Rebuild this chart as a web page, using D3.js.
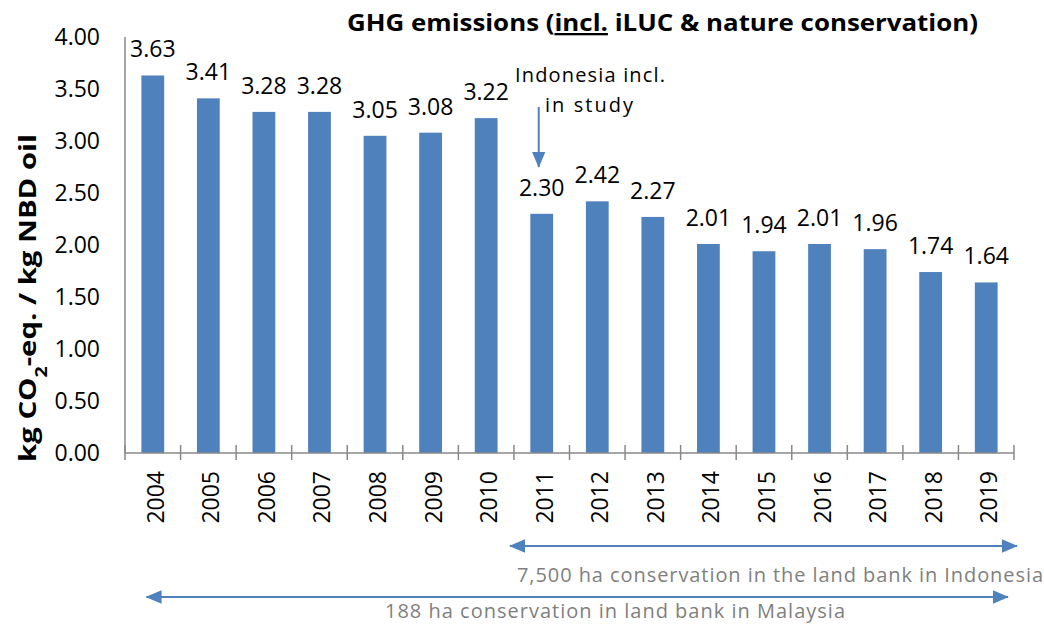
<!DOCTYPE html>
<html lang="en">
<head>
<meta charset="UTF-8">
<title>GHG emissions</title>
<script src="https://d3js.org/d3.v7.min.js"></script>
<style>
    body { margin: 0; background: #fff; }
    svg text { font-family: "Open Sans", "Liberation Sans", Arial, sans-serif; }
    .tick text { font-size: 23px; fill: #000; font-family: "Open Sans", sans-serif; }
</style>
</head>
<body>
<svg id="canvas" width="1044" height="625"></svg>
<script>
    // chart data
    let years = ["2004","2005","2006","2007","2008","2009","2010","2011",
                 "2012","2013","2014","2015","2016","2017","2018","2019"];
    let emissions = [3.63,3.41,3.28,3.28,3.05,3.08,3.22,2.30,
                     2.42,2.27,2.01,1.94,2.01,1.96,1.74,1.64];
    let yTicks = [0,0.5,1,1.5,2,2.5,3,3.5,4];

    let svg = d3.select('svg');
    let blue = "#4f81bd";
    let axisGrey = "#898989";

    let x = d3.scaleBand()
        .domain(years)
        .range([125, 1014])
        .paddingInner(0.59)
        .paddingOuter(0.295);
    let y = d3.scaleLinear().domain([0, 4]).range([453, 37]);

    let defs = svg.append('defs');
    defs.append('marker')
        .attr('id', 'head')
        .attr('viewBox', '0 0 10 10')
        .attr('refX', 9.5).attr('refY', 5)
        .attr('markerWidth', 8).attr('markerHeight', 8)
        .attr('markerUnits', 'strokeWidth')
        .attr('orient', 'auto-start-reverse')
        .append('path')
        .attr('d', 'M0,0.8 L10,5 L0,9.2 Z')
        .attr('fill', blue);

    // y axis
    let yAxis = svg.append('g')
        .attr('transform', 'translate(125,0)')
        .call(d3.axisLeft(y).tickValues(yTicks).tickSize(0).tickPadding(25).tickFormat(d3.format('.2f')));
    yAxis.select('.domain').remove();
    svg.append('line')
        .attr('x1', 125).attr('x2', 125)
        .attr('y1', y(4)).attr('y2', y(0))
        .attr('stroke', axisGrey).attr('stroke-width', 1.5);

    // bars
    svg.append('g').selectAll('rect')
        .data(years)
        .enter()
        .append('rect')
        .attr('x', d => x(d))
        .attr('width', x.bandwidth())
        .attr('y', (d, i) => y(emissions[i]))
        .attr('height', (d, i) => y(0) - y(emissions[i]))
        .attr('fill', blue);

    // data labels
    svg.append('g').selectAll('text')
        .data(years)
        .enter()
        .append('text')
        .attr('x', d => x(d) + x.bandwidth() / 2)
        .attr('y', (d, i) => y(emissions[i]) - 18)
        .attr('text-anchor', 'middle')
        .style('font-size', '23px')
        .text((d, i) => emissions[i].toFixed(2));

    // x axis
    let step = x.step();
    svg.append('line')
        .attr('x1', 125).attr('x2', 1014)
        .attr('y1', y(0)).attr('y2', y(0))
        .attr('stroke', axisGrey).attr('stroke-width', 1.5);
    let tickPos = years.map(d => x(d) - (step - x.bandwidth()) / 2).concat([1014]);
    svg.append('g').selectAll('line')
        .data(tickPos)
        .enter()
        .append('line')
        .attr('x1', d => d).attr('x2', d => d)
        .attr('y1', y(0) - 8).attr('y2', y(0) + 7)
        .attr('stroke', axisGrey).attr('stroke-width', 1.5);
    svg.append('g').selectAll('text')
        .data(years)
        .enter()
        .append('text')
        .attr('transform', d => 'translate(' + (x(d) + x.bandwidth() / 2 + 11) + ',' + 471 + ') rotate(-90)')
        .attr('text-anchor', 'end')
        .style('font-size', '23px')
        .text(d => d);

    // title
    let title = svg.append('text')
        .attr('x', 347).attr('y', 31)
        .style('font-size', '23px').style('font-weight', 'bold')
        .attr('textLength', 631).attr('lengthAdjust', 'spacingAndGlyphs');
    title.append('tspan').text('GHG emissions (');
    title.append('tspan').attr('text-decoration', 'underline').text('incl.');
    title.append('tspan').text(' iLUC &  nature conservation)');

    // y axis title
    let yTitle = svg.append('text')
        .attr('transform', 'translate(36,298) rotate(-90)')
        .attr('text-anchor', 'middle')
        .attr('textLength', 328).attr('lengthAdjust', 'spacingAndGlyphs')
        .style('font-size', '24px').style('font-weight', 'bold');
    yTitle.append('tspan').text('kg CO');
    yTitle.append('tspan').attr('baseline-shift', 'sub').style('font-size', '16px').text('2');
    yTitle.append('tspan').text('-eq. / kg NBD oil');

    // Indonesia annotation
    let cx2011 = x("2011") + x.bandwidth() / 2 - 3;
    svg.append('text')
        .attr('x', 515).attr('y', 82)
        .attr('textLength', 150).attr('lengthAdjust', 'spacing')
        .style('font-size', '20px')
        .text('Indonesia incl.');
    svg.append('text')
        .attr('x', 545).attr('y', 112)
        .attr('textLength', 88).attr('lengthAdjust', 'spacing')
        .style('font-size', '20px')
        .text('in study');
    svg.append('line')
        .attr('x1', cx2011).attr('x2', cx2011)
        .attr('y1', 107).attr('y2', 167)
        .attr('stroke', blue).attr('stroke-width', 2)
        .attr('marker-end', 'url(#head)');

    // conservation periods
    let periods = [
        {x1: x("2011") - (step - x.bandwidth()) / 2 - 4, x2: 1017, y: 546,
         label: "7,500 ha conservation in the land bank in Indonesia", tx: 517, ty: 582, len: 526},
        {x1: x("2004") + 5, x2: 1008, y: 597,
         label: "188 ha conservation in land bank in Malaysia", tx: 385, ty: 618, len: 460}
    ];
    periods.forEach(p => {
        svg.append('line')
            .attr('x1', p.x1).attr('x2', p.x2)
            .attr('y1', p.y).attr('y2', p.y)
            .attr('stroke', blue).attr('stroke-width', 2)
            .attr('marker-start', 'url(#head)')
            .attr('marker-end', 'url(#head)');
        svg.append('text')
            .attr('x', p.tx).attr('y', p.ty)
            .attr('textLength', p.len).attr('lengthAdjust', 'spacing')
            .style('font-size', '20px').style('fill', '#7f7f7f')
            .text(p.label);
    });
</script>
</body>
</html>
